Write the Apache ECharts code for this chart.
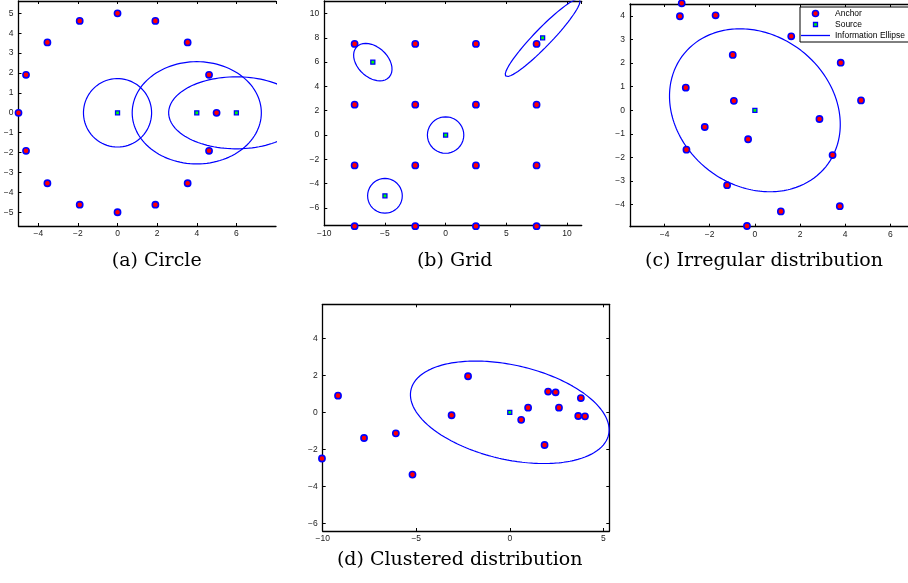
<!DOCTYPE html>
<html><head><meta charset="utf-8">
<script src="https://cdn.jsdelivr.net/npm/echarts@6/dist/echarts.min.js"></script>
<style>html,body{margin:0;padding:0;background:#fff}#c{width:908px;height:583px}</style>
</head><body><div id="c"></div>
<script>
// ---------- DATA ----------
// (a) Circle
const circleAnchorX = [0, 1.91, 3.54, 4.62, 5, 4.62, 3.54, 1.91, 0, -1.91, -3.54, -4.62, -5, -4.62, -3.54, -1.91];
const circleAnchorY = [5, 4.62, 3.54, 1.91, 0, -1.91, -3.54, -4.62, -5, -4.62, -3.54, -1.91, 0, 1.91, 3.54, 4.62];
const circleSourceX = [0, 4, 6];
const circleSourceY = [0, 0, 0];
// ellipses: center x, center y, semi-major, semi-minor, rotation (deg)
const circleEllCX = [0, 4, 6];
const circleEllCY = [0, 0, 0];
const circleEllA = [1.72, 3.26, 3.42];
const circleEllB = [1.72, 2.57, 1.81];
const circleEllT = [0, 0, 0];

// (b) Grid
const gridAnchorX = [-7.5, -2.5, 2.5, 7.5, -7.5, -2.5, 2.5, 7.5, -7.5, -2.5, 2.5, 7.5, -7.5, -2.5, 2.5, 7.5];
const gridAnchorY = [7.5, 7.5, 7.5, 7.5, 2.5, 2.5, 2.5, 2.5, -2.5, -2.5, -2.5, -2.5, -7.5, -7.5, -7.5, -7.5];
const gridSourceX = [-6, 0, -5, 8];
const gridSourceY = [6, 0, -5, 8];
const gridEllCX = [-6, 0, -5, 8];
const gridEllCY = [6, 0, -5, 8];
const gridEllA = [1.83, 1.5, 1.43, 4.38];
const gridEllB = [1.24, 1.5, 1.43, 0.72];
const gridEllT = [-43, 0, 0, 46];

// (c) Irregular distribution
const irrAnchorX = [-3.24, -3.32, -1.74, 1.61, -0.98, 3.80, -3.06, -0.93, 4.70, 2.86, -2.22, -0.30, -3.03, 3.44, -1.23, 1.15, 3.76, -0.35];
const irrAnchorY = [4.54, 3.99, 4.03, 3.14, 2.35, 2.02, 0.96, 0.40, 0.42, -0.37, -0.71, -1.23, -1.67, -1.90, -3.18, -4.29, -4.07, -4.91];
const irrSourceX = [0];
const irrSourceY = [0];
const irrEllCX = [0];
const irrEllCY = [0];
const irrEllA = [3.96];
const irrEllB = [3.25];
const irrEllT = [-31.4];

// (d) Clustered distribution
const cluAnchorX = [-9.18, -7.79, -6.09, -10.04, -5.20, -3.11, -2.23, 0.61, 0.98, 2.05, 2.45, 2.63, 3.80, 3.66, 4.02, 1.86];
const cluAnchorY = [0.90, -1.39, -1.14, -2.50, -3.37, -0.16, 1.95, -0.41, 0.25, 1.12, 1.08, 0.25, 0.77, -0.20, -0.22, -1.77];
const cluSourceX = [0];
const cluSourceY = [0];
const cluEllCX = [0];
const cluEllCY = [0];
const cluEllA = [5.42];
const cluEllB = [2.55];
const cluEllT = [-13.1];

const subTitles = ['(a) Circle', '(b) Grid', '(c) Irregular distribution', '(d) Clustered distribution'];
const legendNames = ['Anchor', 'Source', 'Information Ellipse'];

// ---------- LAYOUT ----------
const panels = [
  {grid:{left:18.5, top:1, width:257.5, height:225}, x:[-5, 8], xi:2, y:[-5.69, 5.62], yi:1, right:false, hideXMax:true,
   anchors:[circleAnchorX, circleAnchorY], sources:[circleSourceX, circleSourceY],
   ell:[circleEllCX, circleEllCY, circleEllA, circleEllB, circleEllT], title:[156.7, 261]},
  {grid:{left:324.3, top:1, width:257.4, height:224.7}, x:[-10, 11.22], xi:5, y:[-7.46, 11.03], yi:2, right:false,
   anchors:[gridAnchorX, gridAnchorY], sources:[gridSourceX, gridSourceY],
   ell:[gridEllCX, gridEllCY, gridEllA, gridEllB, gridEllT], title:[454.7, 261]},
  {grid:{left:630, top:4, width:290, height:222.7}, x:[-5.53, 6.78], xi:2, y:[-4.94, 4.51], yi:1, right:false,
   anchors:[irrAnchorX, irrAnchorY], sources:[irrSourceX, irrSourceY],
   ell:[irrEllCX, irrEllCY, irrEllA, irrEllB, irrEllT], title:[764, 261]},
  {grid:{left:322.7, top:304.3, width:286.6, height:226.7}, x:[-10, 5.32], xi:5, y:[-6.42, 5.84], yi:2, right:true,
   anchors:[cluAnchorX, cluAnchorY], sources:[cluSourceX, cluSourceY],
   ell:[cluEllCX, cluEllCY, cluEllA, cluEllB, cluEllT], title:[459.7, 560]}
];

const isMult = (v, i) => Math.abs(v / i - Math.round(v / i)) < 1e-9;
const fmt = v => String(Math.round(v * 100) / 100).replace('-', '\u2212');
const labelStyle = {fontSize:8.5, fontFamily:'Liberation Sans, Arial, sans-serif', color:'#222'};

function makeAxis(kind, p, gi, pos, showLabel, show) {
  const r = kind === 'x' ? p.x : p.y;
  const it = kind === 'x' ? p.xi : p.yi;
  let showMax = isMult(r[1], it);
  if (kind === 'x' && p.hideXMax) showMax = false;
  return {
    type:'value', gridIndex:gi, position:pos, show:show,
    min:r[0], max:r[1], splitNumber:Math.round((r[1]-r[0])/it), minInterval:it, maxInterval:it,
    axisLine:{show:true, onZero:false, lineStyle:{color:'#000', width:1.3}},
    axisTick:{show:true, inside:true, length:3, lineStyle:{color:'#000', width:1}},
    axisLabel:Object.assign({show:showLabel, margin: kind === 'x' ? 3 : 5, interval:0,
      showMinLabel:isMult(r[0], it), showMaxLabel:showMax, formatter:fmt}, labelStyle),
    splitLine:{show:false}
  };
}

function ellipsePoints(cx, cy, a, b, tDeg) {
  const t = tDeg * Math.PI / 180, pts = [];
  for (let k = 0; k <= 240; k++) {
    const u = 2 * Math.PI * k / 240;
    const ex = a * Math.cos(u), ey = b * Math.sin(u);
    pts.push([cx + ex * Math.cos(t) - ey * Math.sin(t), cy + ex * Math.sin(t) + ey * Math.cos(t)]);
  }
  return pts;
}

const grids = [], xAxes = [], yAxes = [], series = [], titles = [];
panels.forEach((p, k) => {
  grids.push(Object.assign({containLabel:false}, p.grid));
  xAxes.push(makeAxis('x', p, k, 'bottom', true, true));
  xAxes.push(makeAxis('x', p, k, 'top', false, true));
  yAxes.push(makeAxis('y', p, k, 'left', true, true));
  yAxes.push(makeAxis('y', p, k, 'right', false, p.right));
  const xi = 2 * k, yi = 2 * k;
  const [ecx, ecy, ea, eb, et] = p.ell;
  ecx.forEach((_, j) => {
    series.push({name:legendNames[2], type:'line', xAxisIndex:xi, yAxisIndex:yi, clip:true,
      showSymbol:false, symbol:'none', silent:true, z:2,
      lineStyle:{color:'#0000ff', width:1.2}, itemStyle:{color:'#0000ff'},
      data:ellipsePoints(ecx[j], ecy[j], ea[j], eb[j], et[j])});
  });
  series.push({name:legendNames[0], type:'scatter', xAxisIndex:xi, yAxisIndex:yi, z:3,
    symbol:'circle', symbolSize:6.2, clip:false,
    itemStyle:{color:'#ff0000', borderColor:'#0000ff', borderWidth:1.6, opacity:1},
    data:p.anchors[0].map((v, j) => [v, p.anchors[1][j]])});
  series.push({name:legendNames[1], type:'scatter', xAxisIndex:xi, yAxisIndex:yi, z:4,
    symbol:'rect', symbolSize:4, clip:false,
    itemStyle:{color:'#00ff00', borderColor:'#0000ff', borderWidth:1.3, opacity:1},
    data:p.sources[0].map((v, j) => [v, p.sources[1][j]])});
  titles.push({text:subTitles[k], left:p.title[0], top:p.title[1], padding:0,
    textAlign:'center', textVerticalAlign:'middle',
    textStyle:{fontFamily:'DejaVu Serif, serif', fontSize:19, fontWeight:'normal', color:'#000'}});
});

const option = {
  backgroundColor:'#fff',
  animation:false,
  title:titles,
  grid:grids, xAxis:xAxes, yAxis:yAxes, series:series,
  legend:{
    orient:'vertical', left:800, top:7, padding:[2, 4, 2, 1], itemGap:2, itemWidth:29, itemHeight:6,
    backgroundColor:'#fff', borderColor:'#000', borderWidth:1, borderRadius:0, selectedMode:false,
    textStyle:{fontSize:8.5, fontFamily:'Liberation Sans, Arial, sans-serif', color:'#000'},
    data:[
      {name:legendNames[0], icon:'circle', itemStyle:{color:'#ff0000', borderColor:'#0000ff', borderWidth:1.6}},
      {name:legendNames[1], icon:'path://M0,0M6,6M1,1H5V5H1Z', itemStyle:{color:'#00ff00', borderColor:'#0000ff', borderWidth:1.3}},
      {name:legendNames[2], icon:'path://M0,0H29V1.3H0Z', itemStyle:{color:'#0000ff', borderWidth:0}}
    ]
  }
};
const chart = echarts.init(document.getElementById('c'), null, {renderer:'canvas'});
chart.setOption(option);
</script></body></html>
